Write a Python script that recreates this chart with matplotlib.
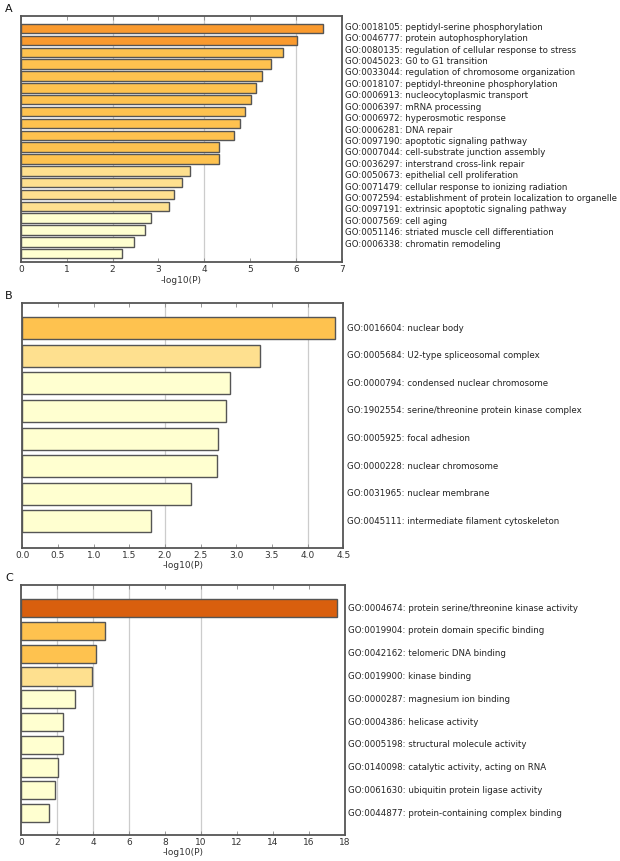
"""
Enrichment bar charts (GO terms) in three panels.
"""
import numpy as np
import matplotlib
matplotlib.use('Agg')
import matplotlib.pyplot as plt

# panel A: biological process
terms_a = ['GO:0018105: peptidyl-serine phosphorylation',
           'GO:0046777: protein autophosphorylation',
           'GO:0080135: regulation of cellular response to stress',
           'GO:0045023: G0 to G1 transition',
           'GO:0033044: regulation of chromosome organization',
           'GO:0018107: peptidyl-threonine phosphorylation',
           'GO:0006913: nucleocytoplasmic transport',
           'GO:0006397: mRNA processing',
           'GO:0006972: hyperosmotic response',
           'GO:0006281: DNA repair',
           'GO:0097190: apoptotic signaling pathway',
           'GO:0007044: cell-substrate junction assembly',
           'GO:0036297: interstrand cross-link repair',
           'GO:0050673: epithelial cell proliferation',
           'GO:0071479: cellular response to ionizing radiation',
           'GO:0072594: establishment of protein localization to organelle',
           'GO:0097191: extrinsic apoptotic signaling pathway',
           'GO:0007569: cell aging',
           'GO:0051146: striated muscle cell differentiation',
           'GO:0006338: chromatin remodeling']
logp_a = [6.60, 6.02, 5.72, 5.46, 5.27, 5.14, 5.03, 4.88, 4.79, 4.64,
          4.32, 4.32, 3.68, 3.52, 3.35, 3.23, 2.84, 2.71, 2.46, 2.21]

# panel B: cellular component
terms_b = ['GO:0016604: nuclear body',
           'GO:0005684: U2-type spliceosomal complex',
           'GO:0000794: condensed nuclear chromosome',
           'GO:1902554: serine/threonine protein kinase complex',
           'GO:0005925: focal adhesion',
           'GO:0000228: nuclear chromosome',
           'GO:0031965: nuclear membrane',
           'GO:0045111: intermediate filament cytoskeleton']
logp_b = [4.39, 3.33, 2.91, 2.86, 2.75, 2.73, 2.37, 1.81]

# panel C: molecular function
terms_c = ['GO:0004674: protein serine/threonine kinase activity',
           'GO:0019904: protein domain specific binding',
           'GO:0042162: telomeric DNA binding',
           'GO:0019900: kinase binding',
           'GO:0000287: magnesium ion binding',
           'GO:0004386: helicase activity',
           'GO:0005198: structural molecule activity',
           'GO:0140098: catalytic activity, acting on RNA',
           'GO:0061630: ubiquitin protein ligase activity',
           'GO:0044877: protein-containing complex binding']
logp_c = [17.55, 4.67, 4.16, 3.95, 2.98, 2.30, 2.30, 2.02, 1.86, 1.52]

# colour bins on -log10(P)
bins = [3, 4, 6, 10]
palette = ['#FFFFD0', '#FEE08F', '#FEC24F', '#FA9A2E', '#D95F0E']

EDGE = '#555555'
plt.rcParams['font.family'] = 'DejaVu Sans'

fig = plt.figure(figsize=(6.2, 8.61), dpi=100)

panels = [
    # letter, terms, values, [l, b, w, h], xmax, xticks, grid, ylim, label y-range
    ('A', terms_a, logp_a, [0.034, 0.6953, 0.517, 0.2861], 7,
     np.arange(0, 8, 1), [2, 4, 6], (19.73, -1.07), (0.954, 0.074), '%d'),
    ('B', terms_b, logp_b, [0.036, 0.3632, 0.5177, 0.2853], 4.5,
     np.arange(0, 4.6, 0.5), [2, 4], (7.98, -0.93), None, '%.1f'),
    ('C', terms_c, logp_c, [0.0344, 0.0302, 0.522, 0.2904], 18,
     np.arange(0, 19, 2), [2, 4, 6, 10], (9.96, -1.02), None, '%d'),
]

for letter, terms, vals, rect, xmax, xticks, grid, ylim, lab_rng, fmt in panels:
    ax = fig.add_axes(rect)
    y = np.arange(len(vals))
    colors = [palette[i] for i in np.digitize(vals, bins)]
    for g in grid:
        ax.axvline(g, color='#cccccc', lw=0.9, zorder=0)
    ax.barh(y, vals, height=0.8, color=colors, edgecolor=EDGE,
            linewidth=1.0, zorder=2)
    ax.set_xlim(0, xmax)
    ax.set_ylim(*ylim)
    ax.set_yticks([])
    ax.set_xticks(xticks)
    ax.set_xticklabels([fmt % t for t in xticks], fontsize=6.5, color='#333333')
    ax.tick_params(axis='x', direction='in', length=3, width=0.6,
                   color='#888888', top=True, pad=2)
    ax.set_xlabel('-log10(P)', fontsize=6.5, color='#333333', labelpad=1)
    for s in ax.spines.values():
        s.set_color(EDGE)
        s.set_linewidth(1.3)

    # term labels to the right of the axes
    if lab_rng is None:
        for yi, t in zip(y, terms):
            ax.text(1.01, yi, t, transform=ax.get_yaxis_transform(),
                    ha='left', va='center', fontsize=6.2, color='#222222')
    else:
        ys = np.linspace(lab_rng[0], lab_rng[1], len(terms))
        for yi, t in zip(ys, terms):
            ax.text(1.01, yi, t, transform=ax.transAxes,
                    ha='left', va='center', fontsize=6.2, color='#222222')

    fig.text(0.008, rect[1] + rect[3] + 0.002, letter, fontsize=8,
             ha='left', va='bottom', color='#111111')

fig.savefig('out.png', dpi=100)
